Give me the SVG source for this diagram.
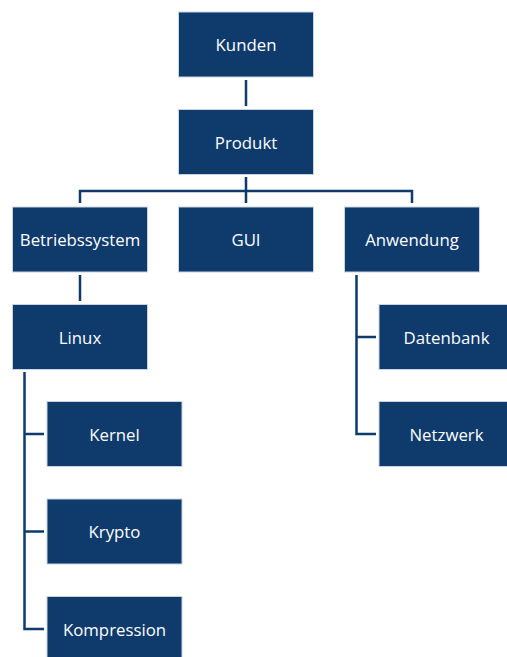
<svg xmlns="http://www.w3.org/2000/svg" width="507" height="657" viewBox="0 0 507 657">
<style>
.box{fill:#0e3a6c;stroke:#c8d3e0;stroke-width:1}
.lbl{fill:#ffffff;font-family:"Open Sans","Noto Sans","Liberation Sans",sans-serif;font-size:16.8px;text-anchor:middle;dominant-baseline:central}
.conn{fill:none;stroke:#0e3a6c;stroke-width:2.5}
</style>
<rect width="507" height="657" fill="#ffffff"/>
<g id="connectors">
<path class="conn" d="M246,80 V106"/>
<path class="conn" d="M246,177 V203 M80,203 V191 H412 V203"/>
<path class="conn" d="M80,275 V301"/>
<path class="conn" d="M24.5,372 V629 H44 M24.5,434 H44 M24.5,531.5 H44"/>
<path class="conn" d="M356.5,275 V434 H376 M356.5,337 H376"/>
</g>
<g id="kunden"><rect class="box" x="178.5" y="12" width="135" height="65"/><text class="lbl" x="246" y="44.5">Kunden</text></g>
<g id="produkt"><rect class="box" x="178.5" y="109.5" width="135" height="65"/><text class="lbl" x="246" y="142">Produkt</text></g>
<g id="betriebssystem"><rect class="box" x="12.5" y="207" width="135" height="65"/><text class="lbl" x="80" y="239.5">Betriebssystem</text></g>
<g id="gui"><rect class="box" x="178.5" y="207" width="135" height="65"/><text class="lbl" x="246" y="239.5">GUI</text></g>
<g id="anwendung"><rect class="box" x="344.5" y="207" width="135" height="65"/><text class="lbl" x="412" y="239.5">Anwendung</text></g>
<g id="linux"><rect class="box" x="12.5" y="304.5" width="135" height="65"/><text class="lbl" x="80" y="337">Linux</text></g>
<g id="kernel"><rect class="box" x="47" y="401.5" width="135" height="65"/><text class="lbl" x="114.5" y="434">Kernel</text></g>
<g id="krypto"><rect class="box" x="47" y="499" width="135" height="65"/><text class="lbl" x="114.5" y="531.5">Krypto</text></g>
<g id="kompression"><rect class="box" x="47" y="596.5" width="135" height="65"/><text class="lbl" x="114.5" y="629">Kompression</text></g>
<g id="datenbank"><rect class="box" x="379" y="304.5" width="135" height="65"/><text class="lbl" x="446.5" y="337">Datenbank</text></g>
<g id="netzwerk"><rect class="box" x="379" y="401.5" width="135" height="65"/><text class="lbl" x="446.5" y="434">Netzwerk</text></g>
</svg>
